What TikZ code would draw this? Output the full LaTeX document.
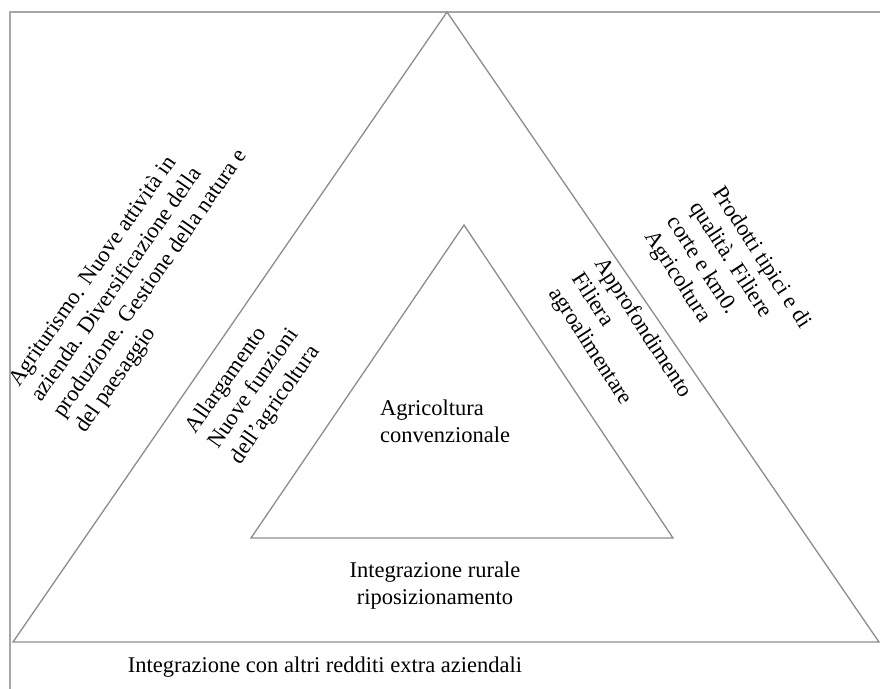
\documentclass[tikz,border=0pt]{standalone}
\usepackage{fontspec}
\setmainfont{Liberation Serif}
\usetikzlibrary{positioning}

\begin{document}
\begin{tikzpicture}[x=1pt, y=-1pt,
    side/.style={draw=black!45, line width=1.3pt, line join=miter},
    txt/.style={font=\fontsize{22.5}{27}\selectfont, inner sep=0pt}]
\clip (0,0) rectangle (880,688);
\draw[black!35, line width=2.2pt] (10,12) rectangle (900,710);
% outer and inner triangle
\coordinate (oTop) at (447,12);
\coordinate (oLeft) at (13,642);
\coordinate (oRight) at (879,642);
\coordinate (iTop) at (464,225);
\coordinate (iLeft) at (251,538);
\coordinate (iRight) at (673,538);
\draw[side] (oTop) -- (oLeft) -- (oRight) -- cycle;
\draw[side] (iTop) -- (iLeft) -- (iRight) -- cycle;
% texts
\node[txt, rotate=55, align=left] (agri) at (140,276)
    {Agriturismo. Nuove attività in\\azienda. Diversificazione della\\produzione. Gestione della natura e\\del paesaggio};
\node[txt, rotate=-57, align=left] (prod) at (727,280)
    {Prodotti tipici e di\\qualità. Filiere\\corte e km0.\\Agricoltura};
\node[txt, rotate=55, align=left] (alla) at (254,389)
    {Allargamento\\Nuove funzioni\\dell'agricoltura};
\node[txt, rotate=-57, align=left] (appr) at (620,343)
    {Approfondimento\\Filiera\\agroalimentare};
\node[txt, align=left] (conv) at (445,421)
    {Agricoltura\\convenzionale};
\node[txt, align=center] (rura) at (435,586)
    {Integrazione rurale\\riposizionamento};
\node[txt] (extra) at (325,667)
    {Integrazione con altri redditi extra aziendali};
\end{tikzpicture}
\end{document}
